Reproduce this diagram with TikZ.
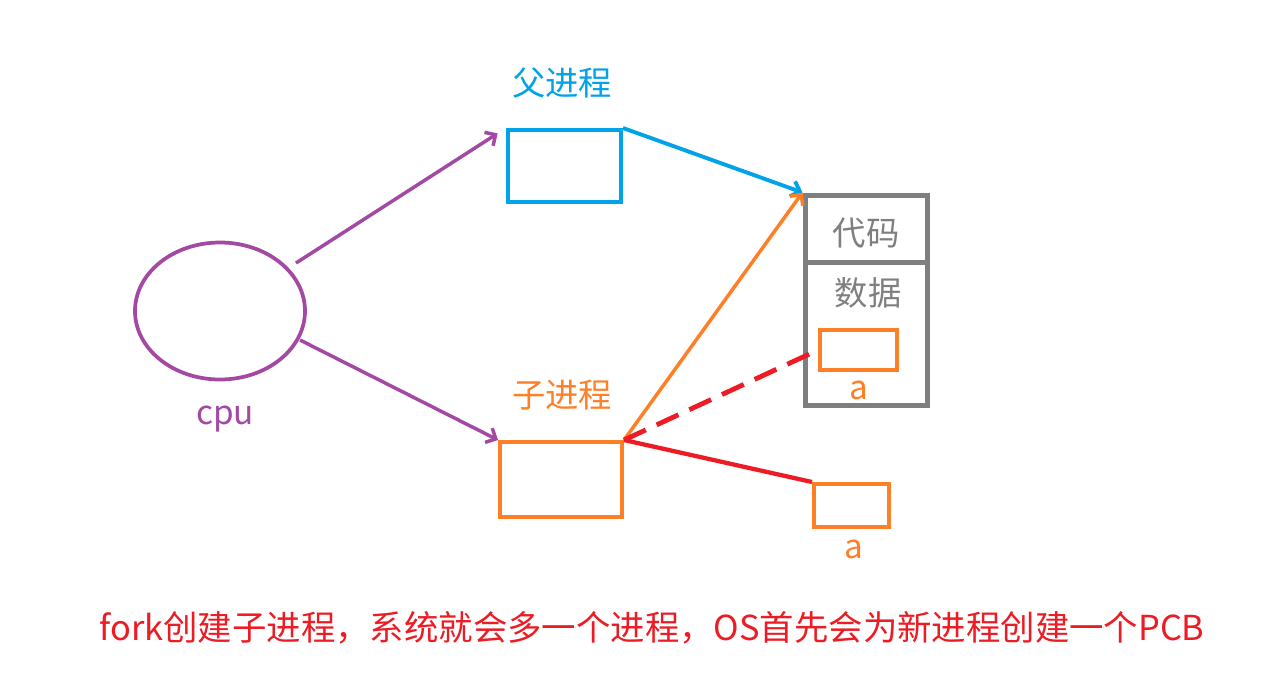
\documentclass[tikz,border=0pt]{standalone}
\usepackage{fontspec}
\newfontfamily\cjk{Noto Sans CJK SC}
\usetikzlibrary{shapes.geometric,arrows.meta}
\definecolor{cpupurple}{HTML}{A349A4}
\definecolor{pblue}{HTML}{00A2E8}
\definecolor{porange}{HTML}{FF7F27}
\definecolor{pred}{HTML}{ED1C24}
\definecolor{pgray}{HTML}{7F7F7F}
\tikzset{
  lbl/.style={font=\cjk\fontsize{25}{30}\selectfont, inner sep=0pt, anchor=center},
  box/.style={draw, rectangle, inner sep=0pt},
  tip/.style={-{Straight Barb[length=6pt,width=12pt]}},
}
\begin{document}
\begin{tikzpicture}[x=0.75pt,y=-0.75pt]
\useasboundingbox[fill=white] (0,0) rectangle (1266,697);

% cpu
\node[ellipse, draw=cpupurple, line width=2.8pt, minimum width=127.5pt, minimum height=102.75pt, inner sep=0pt] (cpu) at (220,311) {};
\node[lbl, text=cpupurple] (cpulbl) at (225,419) {cpu};

% processes
\node[box, draw=pblue, line width=3pt, minimum width=84.75pt, minimum height=54pt] (parent) at (564.5,166) {};
\node[lbl, text=pblue] (parentlbl) at (562,83) {父进程};
\node[box, draw=porange, line width=3pt, minimum width=91.5pt, minimum height=56.25pt] (child) at (561,479.5) {};
\node[lbl, text=porange] (childlbl) at (562,395) {子进程};

% memory
\node[box, draw=pgray, line width=3.75pt, minimum width=91.5pt, minimum height=50.25pt] (code) at (866,228.5) {};
\node[box, draw=pgray, line width=3.75pt, minimum width=91.5pt, minimum height=107.25pt] (data) at (866,333.5) {};
\node[lbl, text=pgray] (codelbl) at (866,233) {代码};
\node[lbl, text=pgray] (datalbl) at (868,293) {数据};
\node[box, draw=porange, line width=3pt, minimum width=57.75pt, minimum height=30pt] (ina) at (858.5,350) {};
\node[lbl, text=porange] (inalbl) at (859,390) {a};
\node[box, draw=porange, line width=3pt, minimum width=56.25pt, minimum height=32.25pt] (exa) at (851.5,505.5) {};
\node[lbl, text=porange] (exalbl) at (854,549) {a};

% connectors
\coordinate (s1) at (296,263);
\coordinate (s2) at (300,340);
\draw[tip, cpupurple, line width=2.6pt, shorten >=7.5pt] (s1) -- (parent.north west);
\draw[tip, cpupurple, line width=2.6pt] (s2) -- (child.north west);
\draw[tip, pblue, line width=2.9pt] (parent.north east) -- (code.north west);
\draw[tip, porange, line width=2.6pt] (child.north east) -- (code.north west);
\draw[pred, line width=3.6pt, dash pattern=on 18pt off 9pt] (child.north east) -- (ina.west);
\draw[pred, line width=3.2pt] (child.north east) -- (exa.north west);

% caption
\node[lbl, text=pred, font=\cjk\fontsize{25.8}{30}\selectfont] (caption) at (652,628) {fork创建子进程，系统就会多一个进程，OS首先会为新进程创建一个PCB};
\end{tikzpicture}
\end{document}
